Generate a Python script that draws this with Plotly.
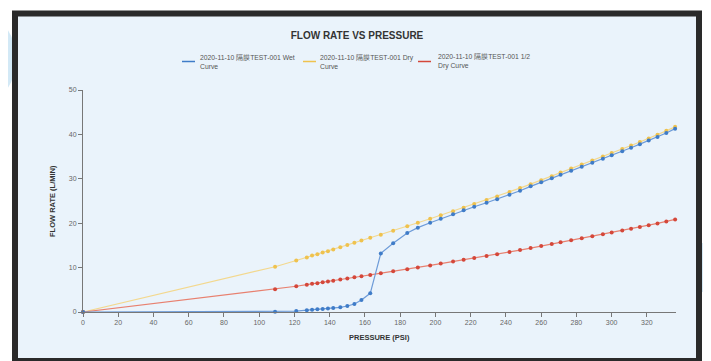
import plotly.graph_objects as go

pressure = [0, 109, 121, 127, 130, 133, 136, 139, 142, 146, 150, 154, 158, 163, 169, 176,
            184, 190, 197, 203, 210, 216, 222, 229, 235, 242, 248, 254, 260, 266, 271,
            277, 283, 289, 295, 300, 306, 311, 316, 321, 326, 331, 336]

wet_curve = [0, 0.05, 0.2, 0.4, 0.5, 0.6, 0.7, 0.8, 0.9, 1.05, 1.35, 1.8, 2.7, 4.2, 13.2, 15.5,
             17.8, 19.0, 20.1, 21.0, 22.0, 22.9, 23.7, 24.6, 25.4, 26.4, 27.3, 28.3, 29.2, 30.1, 30.9,
             31.8, 32.7, 33.6, 34.5, 35.3, 36.2, 37.0, 37.8, 38.6, 39.4, 40.3, 41.3]

dry_curve = [0, 10.2, 11.6, 12.3, 12.7, 13.0, 13.4, 13.7, 14.1, 14.6, 15.1, 15.6, 16.1, 16.7, 17.4, 18.3,
             19.3, 20.1, 21.0, 21.8, 22.7, 23.5, 24.3, 25.2, 26.0, 27.0, 27.9, 28.8, 29.7, 30.6, 31.4,
             32.3, 33.2, 34.1, 35.0, 35.8, 36.7, 37.5, 38.3, 39.1, 39.9, 40.8, 41.7]

half_dry_curve = [0, 5.1, 5.8, 6.15, 6.35, 6.5, 6.7, 6.85, 7.05, 7.3, 7.55, 7.8, 8.05, 8.35, 8.7, 9.15,
                  9.65, 10.05, 10.5, 10.9, 11.35, 11.75, 12.15, 12.6, 13.0, 13.5, 13.95, 14.4, 14.85, 15.3, 15.7,
                  16.15, 16.6, 17.05, 17.5, 17.9, 18.35, 18.75, 19.15, 19.55, 19.95, 20.4, 20.85]

names = ["2020-11-10 隔膜TEST-001 Wet<br>Curve",
         "2020-11-10 隔膜TEST-001 Dry<br>Curve",
         "2020-11-10 隔膜TEST-001 1/2<br>Dry Curve"]

x_ticks = list(range(0, 321, 20))
y_ticks = list(range(0, 51, 10))

line_colors = ["#6d9bd8", "#f3d88e", "#e8806f"]
marker_colors = ["#3f7cc8", "#efc24e", "#d4473a"]

fig = go.Figure()
series = [wet_curve, dry_curve, half_dry_curve]
for i in [1, 2, 0]:
    fig.add_trace(go.Scatter(
        x=pressure, y=series[i], mode="lines+markers", name=names[i],
        line=dict(color=line_colors[i], width=1.2),
        marker=dict(color=marker_colors[i], size=4),
        showlegend=False, cliponaxis=False, hoverinfo="skip"))

# the page body adds an 8px offset, so work in page pixels and shift
OFF = 8
W, H = 711 - OFF, 361 - OFF
L, R, T, B = 83 - OFF, 676 - OFF, 90 - OFF, 312 - OFF
pw, ph = R - L, B - T

def px(xp):
    return (xp - OFF - L) / pw

def py(yp):
    return (B - (yp - OFF)) / ph

shapes = [
    dict(type="circle", xref="paper", yref="paper", layer="below",
         x0=px(-40), x1=px(16), y0=py(100), y1=py(18),
         fillcolor="#d3e9f6", line=dict(width=0)),
    dict(type="rect", xref="paper", yref="paper", layer="below",
         x0=px(700), x1=px(715), y0=py(292), y1=py(243),
         fillcolor="#d6e9f4", line=dict(width=0)),
    dict(type="rect", xref="paper", yref="paper", layer="below",
         x0=px(15), x1=px(699), y0=py(361), y1=py(13.5),
         fillcolor="#eaf3fb", line=dict(color="#2a2a2a", width=6)),
]

annotations = [
    dict(text="<b>PRESSURE (PSI)</b>", xref="paper", yref="paper",
         x=0.5, y=py(337), xanchor="center", yanchor="middle", showarrow=False,
         font=dict(size=7.5, color="#333", family="Liberation Sans")),
    dict(text="<b>FLOW RATE (L/MIN)</b>", xref="paper", yref="paper",
         x=px(52), y=0.5, xanchor="center", yanchor="middle", showarrow=False,
         textangle=-90, font=dict(size=7.5, color="#333", family="Liberation Sans")),
]

# hand-made legend: short line + two-line label
legend_line_x = [(182, 195), (303, 316), (418, 431)]
legend_text_x = [198, 318, 436]
for i in range(3):
    x0, x1 = legend_line_x[i]
    shapes.append(dict(type="line", xref="paper", yref="paper",
                       x0=px(x0), x1=px(x1), y0=py(61.5), y1=py(61.5),
                       line=dict(color=marker_colors[i], width=1.5)))
    annotations.append(dict(text=names[i], xref="paper", yref="paper",
                            x=px(legend_text_x[i]), y=py(62), xanchor="left", yanchor="middle",
                            align="left", showarrow=False,
                            font=dict(size=6.8, color="#555", family="Liberation Sans")))

axis_common = dict(showgrid=False, zeroline=False, showline=True, linecolor="#777",
                   linewidth=1, ticks="outside", ticklen=4, tickcolor="#777",
                   tickfont=dict(size=7, color="#666", family="Liberation Sans"))

fig.update_layout(
    width=W, height=H,
    margin=dict(l=L, r=W - R, t=T, b=H - B, autoexpand=False),
    paper_bgcolor="white", plot_bgcolor="rgba(0,0,0,0)",
    title=dict(text="<b>FLOW RATE VS PRESSURE</b>", x=(357 - OFF) / W, xanchor="center",
               y=1 - (35 - OFF) / H, yanchor="middle",
               font=dict(size=10, color="#333", family="Liberation Sans")),
    xaxis=dict(range=[0, 336.5], tickvals=x_ticks, **axis_common),
    yaxis=dict(range=[0, 50], tickvals=y_ticks, **axis_common),
    showlegend=False,
    shapes=shapes, annotations=annotations,
)

fig.write_html("out.html")
